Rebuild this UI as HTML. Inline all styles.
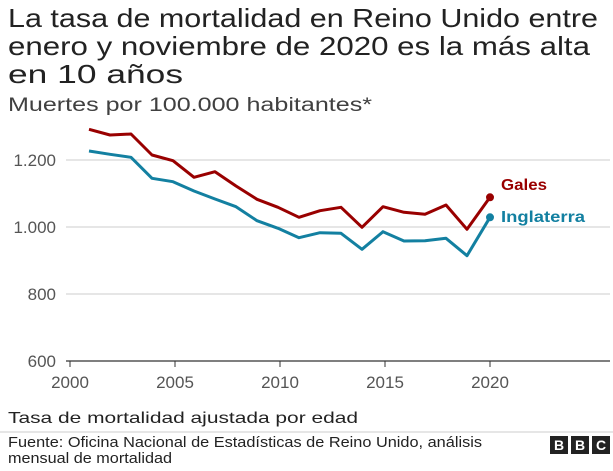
<!DOCTYPE html><html><head><style>body{margin:0;width:613px;height:466px;background:#fff;font-family:"Liberation Sans",sans-serif;overflow:hidden}</style></head><body>
<svg width="613" height="466" xmlns="http://www.w3.org/2000/svg" font-family="Liberation Sans, sans-serif">
<text x="8" y="27" font-size="26" fill="#222" textLength="590" lengthAdjust="spacingAndGlyphs">La tasa de mortalidad en Reino Unido entre</text>
<text x="8" y="55" font-size="26" fill="#222" textLength="582" lengthAdjust="spacingAndGlyphs">enero y noviembre de 2020 es la más alta</text>
<text x="8" y="83" font-size="26" fill="#222" textLength="175" lengthAdjust="spacingAndGlyphs">en 10 años</text>
<text x="8" y="111" font-size="19" fill="#404040" textLength="364" lengthAdjust="spacingAndGlyphs">Muertes por 100.000 habitantes*</text>
<g stroke="#ccc" stroke-width="1"><line x1="66" y1="160" x2="610" y2="160"/><line x1="66" y1="227" x2="610" y2="227"/><line x1="66" y1="294" x2="610" y2="294"/></g>
<line x1="66" y1="361" x2="610" y2="361" stroke="#333" stroke-width="1.2"/>
<g stroke="#333"><line x1="70" y1="361" x2="70" y2="367"/><line x1="175" y1="361" x2="175" y2="367"/><line x1="280" y1="361" x2="280" y2="367"/><line x1="385" y1="361" x2="385" y2="367"/><line x1="490" y1="361" x2="490" y2="367"/></g>
<g font-size="17" fill="#555" text-anchor="end"><text x="56" y="166">1.200</text><text x="56" y="233">1.000</text><text x="56" y="300">800</text><text x="56" y="367">600</text></g>
<g font-size="17" fill="#555" text-anchor="middle"><text x="70" y="388">2000</text><text x="175" y="388">2005</text><text x="280" y="388">2010</text><text x="385" y="388">2015</text><text x="490" y="388">2020</text></g>
<polyline fill="none" stroke="#990000" stroke-width="3" stroke-linejoin="round" points="89,129.3 110,135 131,134 152,155 173,160.7 194,177.3 215,171.7 236,186 257,199.3 278,207.3 299,217.3 320,210.7 341,207.3 362,227.3 383,206.7 404,212.3 425,214.3 446,205 467,229.3 490,197.3"/>
<polyline fill="none" stroke="#1380a1" stroke-width="3" stroke-linejoin="round" points="89,151 110,154.3 131,157.3 152,178.3 173,181.7 194,191 215,199 236,206.7 257,220.7 278,228.3 299,237.7 320,232.7 341,233.3 362,249.3 383,231.7 404,241 425,240.7 446,238.3 467,255.7 490,217.3"/>
<circle cx="490" cy="197.3" r="4" fill="#990000"/><circle cx="490" cy="217.3" r="4" fill="#1380a1"/>
<text x="501" y="190" font-size="16" font-weight="bold" fill="#990000" textLength="46" lengthAdjust="spacingAndGlyphs">Gales</text>
<text x="501" y="222" font-size="16" font-weight="bold" fill="#1380a1" textLength="84" lengthAdjust="spacingAndGlyphs">Inglaterra</text>
<text x="8" y="423" font-size="16" fill="#222" textLength="350" lengthAdjust="spacingAndGlyphs">Tasa de mortalidad ajustada por edad</text>
<line x1="0" y1="432" x2="613" y2="432" stroke="#ccc"/>
<text x="8" y="447" font-size="15" fill="#222" textLength="474" lengthAdjust="spacingAndGlyphs">Fuente: Oficina Nacional de Estadísticas de Reino Unido, análisis</text>
<text x="8" y="463" font-size="15" fill="#222" textLength="164" lengthAdjust="spacingAndGlyphs">mensual de mortalidad</text>
<g><rect x="550" y="436" width="18" height="18" fill="#222"/><rect x="571" y="436" width="18" height="18" fill="#222"/><rect x="592" y="436" width="18" height="18" fill="#222"/>
<g fill="#fff" font-size="14" font-weight="bold" text-anchor="middle"><text x="559" y="450">B</text><text x="580" y="450">B</text><text x="601" y="450">C</text></g></g>
</svg></body></html>
